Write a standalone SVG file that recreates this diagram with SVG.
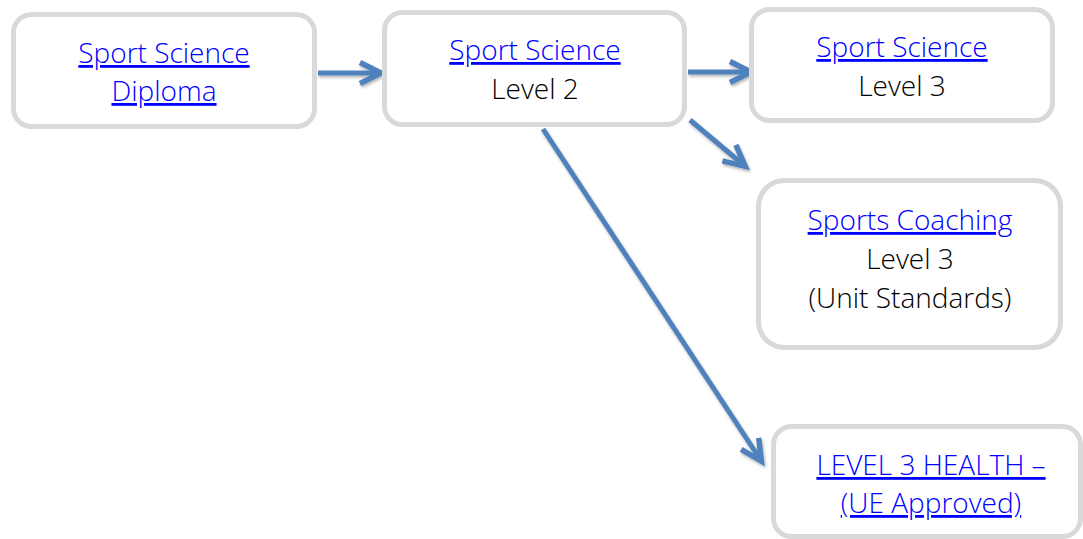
<svg xmlns="http://www.w3.org/2000/svg" width="1083" height="539" viewBox="0 0 1083 539">
  <defs>
    <style>
      .box { fill: #ffffff; stroke: #d9d9d9; stroke-width: 5; }
      .t { font-family: "Open Sans", "Liberation Sans", sans-serif; font-size: 28px; font-weight: 300; text-anchor: middle; fill: #000000; }
      .link { fill: #0000ff; text-decoration: underline; }
      .conn { fill: none; stroke: #4f81bd; stroke-width: 5; marker-end: url(#head); }
    </style>
    <marker id="head" markerUnits="userSpaceOnUse" markerWidth="40" markerHeight="40" viewBox="-30 -20 40 40" refX="0" refY="0" orient="auto">
      <path d="M -22 -10.5 L -1 0 L -22 10.5" fill="none" stroke="#4f81bd" stroke-width="5.5" stroke-linejoin="miter" stroke-miterlimit="10"/>
    </marker>
    <filter id="sh" x="-20%" y="-20%" width="140%" height="140%">
      <feGaussianBlur in="SourceAlpha" stdDeviation="1.5"/>
      <feOffset dx="1" dy="2" result="b"/>
      <feComponentTransfer><feFuncA type="linear" slope="0.3"/></feComponentTransfer>
      <feMerge><feMergeNode/><feMergeNode in="SourceGraphic"/></feMerge>
    </filter>
  </defs>

  <g id="connectors" filter="url(#sh)">
    <line class="conn" x1="318" y1="73" x2="382" y2="73"/>
    <line class="conn" x1="688" y1="72" x2="752" y2="72"/>
    <line class="conn" x1="690" y1="120" x2="746" y2="167"/>
    <line class="conn" x1="543" y1="129" x2="762" y2="462"/>
  </g>

  <g id="node-diploma">
    <rect class="box" x="13.5" y="14.5" width="301" height="112" rx="18"/>
    <text class="t link" x="164" y="63">Sport Science</text>
    <text class="t link" x="164" y="101">Diploma</text>
  </g>

  <g id="node-level2">
    <rect class="box" x="384.5" y="12.5" width="300" height="112" rx="18"/>
    <text class="t link" x="535" y="60">Sport Science</text>
    <text class="t" x="535" y="99">Level 2</text>
  </g>

  <g id="node-level3">
    <rect class="box" x="751.5" y="9.5" width="301" height="111" rx="18"/>
    <text class="t link" x="902" y="57">Sport Science</text>
    <text class="t" x="902" y="96">Level 3</text>
  </g>

  <g id="node-coaching">
    <rect class="box" x="758.5" y="180.5" width="302" height="167" rx="26"/>
    <text class="t link" x="910" y="230">Sports Coaching</text>
    <text class="t" x="910" y="269">Level 3</text>
    <text class="t" x="910" y="308">(Unit Standards)</text>
  </g>

  <g id="node-health">
    <rect class="box" x="773.5" y="426.5" width="307" height="110" rx="18"/>
    <text class="t link" x="931" y="475">LEVEL 3 HEALTH –</text>
    <text class="t link" x="931" y="513">(UE Approved)</text>
  </g>
</svg>
